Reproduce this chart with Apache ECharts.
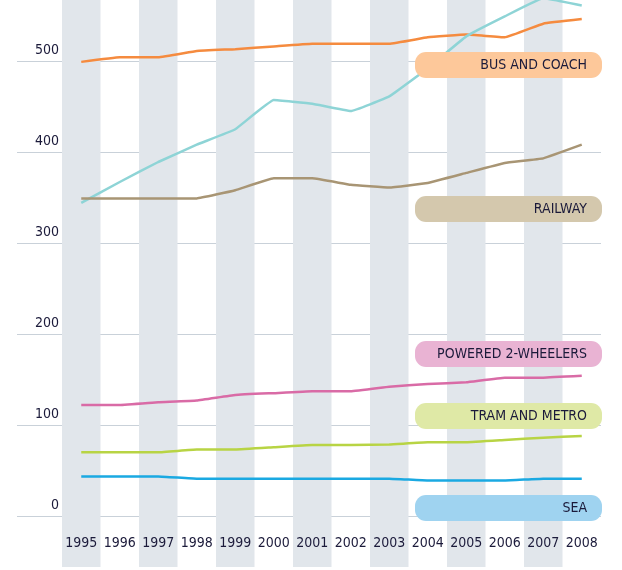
<!DOCTYPE html>
<html>
<head>
<meta charset="utf-8">
<script src="https://cdn.jsdelivr.net/npm/echarts@6/dist/echarts.min.js"></script>
<style>
html,body{margin:0;padding:0;background:#fff;}
#c{width:622px;height:570px;}
</style>
</head>
<body>
<div id="c"></div>
<script>
const years = ['1995','1996','1997','1998','1999','2000','2001','2002','2003','2004','2005','2006','2007','2008'];
const yTicks = [0, 100, 200, 300, 400, 500];
const busCoach = [499, 504, 504, 511, 513, 516, 519, 519, 519, 526, 529, 526, 541, 546];
const air = [344, 367, 389, 408, 425, 457, 453, 445, 461, 492, 527, 549, 569, 561];
const railway = [349, 349, 349, 349, 358, 371, 371, 364, 361, 366, 377, 388, 393, 408];
const powered2W = [122, 122, 125, 127, 133, 135, 137, 137, 142, 145, 147, 152, 152, 154];
const tramMetro = [70, 70, 70, 73, 73, 75.5, 78, 78, 78.5, 81, 81, 83.5, 86, 88];
const sea = [43.5, 43.5, 43.5, 41, 41, 41, 41, 41, 41, 39, 39, 39, 41, 41];
const labelNames = ['BUS AND COACH', 'RAILWAY', 'POWERED 2-WHEELERS', 'TRAM AND METRO', 'SEA'];

const FONT = "'DejaVu Sans Condensed', sans-serif";
const TXT = '#1b1a3a';

const chart = echarts.init(document.getElementById('c'));

const seriesDefs = [
  {name: 'BUS AND COACH', data: busCoach, color: '#f58b3f'},
  {name: 'AIR', data: air, color: '#8ed4d6'},
  {name: 'RAILWAY', data: railway, color: '#a89574'},
  {name: 'POWERED 2-WHEELERS', data: powered2W, color: '#d96ba6'},
  {name: 'TRAM AND METRO', data: tramMetro, color: '#b8d444'},
  {name: 'SEA', data: sea, color: '#1aa9e2'}
];

const boxes = [
  {text: labelNames[0], top: 52, fill: '#fdc89a'},
  {text: labelNames[1], top: 196, fill: '#d4c8ad'},
  {text: labelNames[2], top: 341, fill: '#e9b3d3'},
  {text: labelNames[3], top: 403, fill: '#dfe9a6'},
  {text: labelNames[4], top: 495, fill: '#9fd3f0'}
];

const graphics = [];
boxes.forEach(b => {
  graphics.push({
    type: 'rect', x: 415, y: b.top, z: 100,
    shape: {width: 187, height: 26, r: 11},
    style: {fill: b.fill}
  });
  graphics.push({
    type: 'text', x: 587, y: b.top + 13, z: 101,
    style: {text: b.text, fill: TXT, font: '14px ' + FONT, textAlign: 'right', textVerticalAlign: 'middle'}
  });
});

const option = {
  animation: false,
  backgroundColor: '#ffffff',
  grid: [
    {left: 62, right: 21, top: 0, bottom: 3},
    {left: 17, right: 21, top: 61, bottom: 54},
    {left: 62, right: 21, top: 0, bottom: 54}
  ],
  xAxis: [
    {gridIndex: 0, type: 'category', data: years, boundaryGap: true,
     axisLine: {show: false}, axisTick: {show: false}, axisLabel: {show: false},
     splitLine: {show: false},
     splitArea: {show: true, interval: 0, areaStyle: {color: ['#e1e6eb', 'rgba(255,255,255,0)']}}},
    {gridIndex: 1, type: 'value', min: 0, max: 1, show: false},
    {gridIndex: 2, type: 'category', data: years, boundaryGap: true,
     axisLine: {show: false}, axisTick: {show: false},
     axisLabel: {interval: 0, color: TXT, fontFamily: FONT, fontSize: 14, margin: 20},
     splitLine: {show: false}, splitArea: {show: false}}
  ],
  yAxis: [
    {gridIndex: 0, type: 'value', show: false},
    {gridIndex: 1, type: 'value', min: 0, max: 500, interval: 100,
     axisLine: {show: false}, axisTick: {show: false},
     splitLine: {show: true, lineStyle: {color: '#c9d1d9', width: 1}},
     axisLabel: {inside: true, align: 'right', margin: 42, verticalAlign: 'bottom',
       padding: [0, 0, 4, 0], color: TXT, fontFamily: FONT, fontSize: 14,
       formatter: v => yTicks.indexOf(v) >= 0 ? String(v) : ''}},
    {gridIndex: 2, type: 'value', min: 0, max: 567, show: false}
  ],
  series: seriesDefs.map(s => ({
    name: s.name, type: 'line', xAxisIndex: 2, yAxisIndex: 2,
    data: s.data, symbol: 'none', smooth: 0.08,
    lineStyle: {color: s.color, width: 2.5},
    itemStyle: {color: s.color}, z: 3
  })),
  graphic: graphics
};
chart.setOption(option);
</script>
</body>
</html>
